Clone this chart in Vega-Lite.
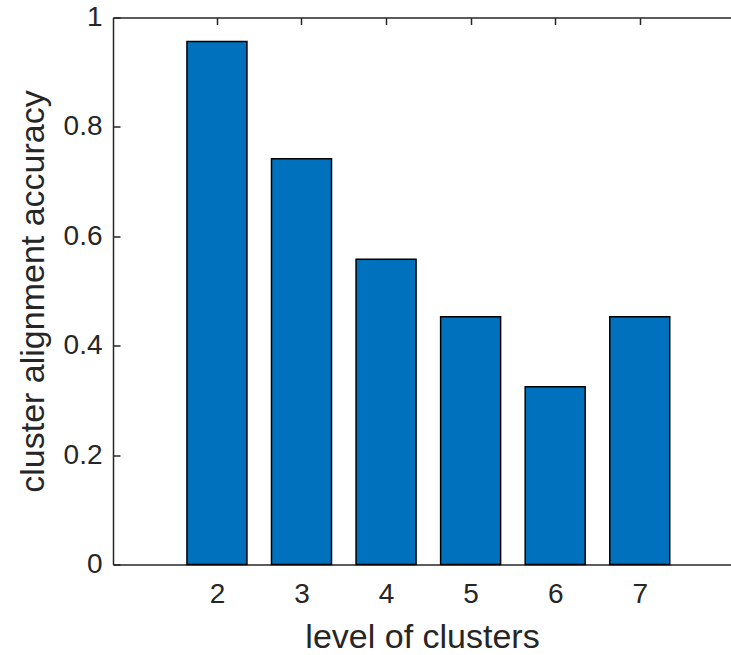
{
  "$schema": "https://vega.github.io/schema/vega-lite/v6.json",
  "width": 618,
  "height": 547,
  "autosize": "none",
  "padding": {"left": 113, "top": 17.5, "right": 0, "bottom": 90.5},
  "background": "white",
  "config": {
    "view": {"stroke": null},
    "font": "Liberation Sans",
    "axis": {
      "domainColor": "#262626",
      "domainWidth": 1.5,
      "tickColor": "#262626",
      "tickWidth": 1.5,
      "labelColor": "#262626",
      "titleColor": "#262626",
      "labelFont": "Liberation Sans",
      "titleFont": "Liberation Sans",
      "labelFontSize": 28,
      "titleFontSize": 34,
      "titleFontWeight": "normal",
      "grid": false
    }
  },
  "data": {
    "values": [
      {"level": 2, "accuracy": 0.956},
      {"level": 3, "accuracy": 0.742},
      {"level": 4, "accuracy": 0.558},
      {"level": 5, "accuracy": 0.453},
      {"level": 6, "accuracy": 0.325},
      {"level": 7, "accuracy": 0.453}
    ]
  },
  "layer": [
    {
      "mark": {"type": "bar", "size": 60, "fill": "#0072BD", "stroke": "#000000", "strokeWidth": 1.5},
      "encoding": {
        "x": {
          "field": "level",
          "type": "quantitative",
          "scale": {"domain": [0.83, 8.02], "nice": false, "zero": false},
          "axis": {
            "orient": "bottom",
            "values": [2, 3, 4, 5, 6, 7],
            "title": "level of clusters",
            "tickSize": -7,
            "labelPadding": 23,
            "titlePadding": 12
          }
        },
        "y": {
          "field": "accuracy",
          "type": "quantitative",
          "scale": {"domain": [0, 1], "nice": false},
          "axis": {
            "values": [0, 0.2, 0.4, 0.6, 0.8, 1],
            "format": "~g",
            "title": "cluster alignment accuracy",
            "tickSize": -7,
            "labelPadding": 18,
            "titlePadding": 13
          }
        }
      }
    },
    {
      "mark": {"type": "bar", "size": 60, "opacity": 0},
      "encoding": {
        "x": {
          "field": "level",
          "type": "quantitative",
          "axis": {
            "orient": "top",
            "values": [2, 3, 4, 5, 6, 7],
            "labels": false,
            "title": null,
            "tickSize": -7
          }
        },
        "y": {"field": "accuracy", "type": "quantitative"}
      }
    }
  ],
  "resolve": {"axis": {"x": "independent"}}
}
